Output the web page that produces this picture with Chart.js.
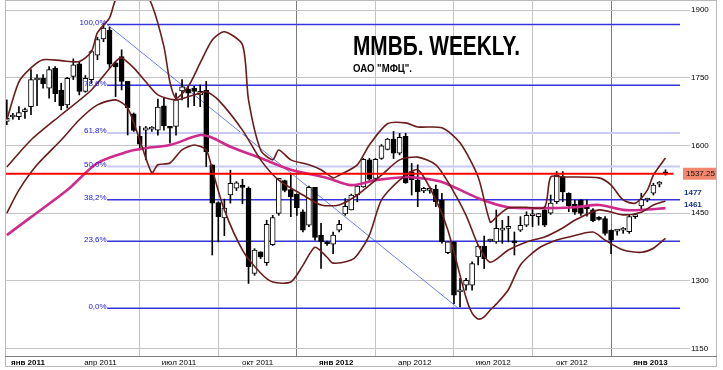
<!DOCTYPE html>
<html><head><meta charset="utf-8">
<script src="https://cdn.jsdelivr.net/npm/chart.js@4/dist/chart.umd.min.js"></script>
<style>html,body{margin:0;padding:0;background:#fff}canvas{display:block}</style>
</head><body>
<canvas id="c" width="723" height="370"></canvas>
<script>
// ---- DATA (weekly candles; week 0 = week of 10 Jan 2011) ----
const firstWeek = -4;
const openV  = [1653,1663,1664,1675,1686,1745,1749,1727,1771,1723,1690,1753,1781,1720,1746,1800,1836,1856,1783,1797,1742,1670,1620,1634,1636,1634,1688,1640,1642,1721,1725,1727,1712,1722,1557,1473,1439,1490,1505,1512,1505,1316,1364,1340,1380,1449,1522,1502,1492,1453,1423,1507,1401,1383,1381,1412,1448,1457,1490,1508,1568,1527,1571,1591,1614,1583,1620,1542,1523,1499,1500,1503,1479,1362,1386,1275,1290,1290,1353,1377,1388,1386,1412,1416,1386,1412,1423,1444,1442,1457,1450,1475,1531,1494,1470,1479,1466,1457,1438,1438,1412,1410,1412,1409,1442,1466,1479,1494,1514,1538];
const highV  = [1701,1671,1686,1683,1768,1757,1757,1775,1775,1738,1751,1792,1786,1755,1811,1840,1870,1862,1786,1812,1742,1672,1642,1642,1642,1703,1705,1642,1716,1746,1731,1731,1734,1742,1557,1475,1481,1545,1520,1525,1508,1371,1364,1434,1445,1527,1523,1537,1492,1457,1510,1507,1427,1388,1408,1434,1482,1492,1512,1571,1571,1571,1602,1616,1631,1627,1627,1560,1557,1507,1508,1512,1494,1386,1386,1305,1305,1342,1379,1399,1392,1457,1434,1443,1408,1442,1453,1460,1449,1464,1490,1542,1542,1495,1478,1480,1479,1460,1442,1442,1412,1414,1418,1446,1448,1494,1483,1516,1520,1546];
const lowV   = [1646,1658,1657,1660,1668,1688,1727,1705,1697,1679,1683,1746,1712,1718,1738,1790,1830,1772,1708,1723,1623,1631,1590,1568,1631,1623,1634,1605,1623,1701,1685,1688,1686,1553,1357,1386,1400,1472,1500,1471,1294,1312,1349,1334,1378,1445,1497,1442,1445,1408,1420,1390,1327,1378,1360,1408,1445,1457,1475,1507,1523,1525,1569,1590,1571,1579,1516,1490,1464,1495,1494,1464,1383,1360,1249,1242,1279,1279,1335,1327,1386,1383,1383,1386,1357,1409,1420,1420,1423,1420,1447,1471,1475,1453,1447,1445,1443,1431,1434,1401,1360,1401,1405,1405,1438,1457,1475,1490,1508,1534];
const closeV = [1660,1666,1673,1678,1746,1747,1737,1768,1715,1688,1749,1779,1720,1749,1808,1835,1860,1780,1774,1742,1683,1633,1603,1639,1638,1685,1643,1638,1701,1730,1716,1720,1720,1586,1472,1442,1461,1516,1517,1507,1331,1368,1353,1425,1440,1527,1500,1486,1462,1412,1507,1396,1386,1382,1401,1425,1465,1490,1510,1569,1525,1569,1599,1614,1583,1618,1517,1524,1497,1505,1505,1475,1386,1386,1268,1280,1301,1338,1377,1349,1390,1416,1416,1418,1384,1423,1445,1448,1449,1423,1472,1534,1497,1466,1452,1449,1460,1433,1436,1405,1390,1414,1416,1442,1445,1480,1480,1512,1516,1537.25];

// Bollinger bands (at sample weeks)
const bbUpperWeek = [-4,-2,0,2,5,8,10,11,13,14,16,18,20,22,23,24,26,28,30,32,35,36,38,40,41,43,46,48,50,51,54,56,59,62,64,68,71,74,76,77,79,82,85,86,88,94,96,98,100,102,103,105];
const bbUpper     = [1657,1741,1772,1790,1788,1786,1808,1850,1883,1923,1956,1956,1912,1819,1740,1705,1730,1783,1834,1852,1823,1701,1590,1568,1590,1568,1557,1546,1528,1534,1557,1601,1648,1650,1641,1639,1606,1530,1430,1441,1461,1463,1463,1530,1530,1528,1512,1479,1472,1501,1534,1572];
const bbMidWeek = [-4,0,5,10,14,15,17,19,21,24,27,29,31,35,38,41,45,48,51,54,58,61,64,67,69,72,74,76,79,82,85,88,90,94,98,101,103,105];
const bbMid     = [1552,1612,1668,1723,1786,1794,1772,1741,1712,1701,1712,1719,1701,1634,1568,1523,1490,1468,1468,1490,1534,1568,1574,1557,1519,1445,1379,1341,1368,1386,1397,1417,1434,1457,1446,1452,1468,1477];
const bbLowerWeek = [-4,-2,1,5,8,11,14,16,18,20,21,23,25,27,29,30,32,35,38,40,43,45,47,49,50,53,54,56,58,61,64,67,69,72,73,74,75,76,77,79,81,84,87,89,93,95,98,101,103,105];
const bbLower     = [1450,1501,1557,1612,1657,1690,1701,1683,1612,1539,1557,1561,1590,1601,1590,1546,1457,1368,1317,1297,1297,1334,1374,1352,1339,1346,1357,1401,1479,1523,1546,1479,1412,1262,1228,1215,1220,1235,1248,1280,1335,1372,1390,1397,1408,1390,1368,1363,1372,1394];
// long moving average (magenta)
const maWeek = [-4,0,6,11,16,19,23,28,30,33,38,43,49,53,57,62,64,68,74,79,85,90,94,98,101,105];
const maVal  = [1401,1441,1501,1561,1586,1594,1601,1623,1617,1597,1572,1546,1528,1512,1523,1530,1528,1519,1483,1463,1461,1463,1468,1457,1457,1461];

// Fibonacci retracement
const fibHigh = 1868, fibLow = 1239;
const fibRatios = [1, 0.786, 0.618, 0.5, 0.382, 0.236, 0];
const fibLabels = ['100,0%','78,6%','61,8%','50,0%','38,2%','23,6%','0,0%'];
const fibSpan = [12.6, 107.4];
const trendWeeks = [12.6, 70.7];
const lastPrice = 1537.25;
const sideLabels = [1477, 1461];

// axes
const yTicks = [1150,1300,1450,1600,1750,1900];
const monthWeek  = [0,12,25,38,51,64,77,90,103];
const monthLabel = ['янв 2011','апр 2011','июл 2011','окт 2011','янв 2012','апр 2012','июл 2012','окт 2012','янв 2013'];

// ---- build ----
const weeks = openV.map((_, k) => firstWeek + k);
const pts = (ws, vs) => ws.map((w, k) => ({x: w, y: vs[k]}));
const FONT = '"Liberation Sans", Arial, sans-serif';

const datasets = [];
datasets.push({type:'line', label:'last', data:[{x:-4.3,y:lastPrice},{x:106.3,y:lastPrice}], borderColor:'#ff0000', borderWidth:2, pointRadius:0, order:0});
datasets.push({type:'line', label:'bbU', data:pts(bbUpperWeek,bbUpper), borderColor:'#6a1c1c', borderWidth:1.6, pointRadius:0, tension:0.25, order:1});
datasets.push({type:'line', label:'bbM', data:pts(bbMidWeek,bbMid), borderColor:'#6a1c1c', borderWidth:1.6, pointRadius:0, tension:0.25, order:1});
datasets.push({type:'line', label:'bbL', data:pts(bbLowerWeek,bbLower), borderColor:'#6a1c1c', borderWidth:1.6, pointRadius:0, tension:0.25, order:1});
datasets.push({type:'line', label:'ma', data:pts(maWeek,maVal), borderColor:'#cf2b8c', borderWidth:2.6, pointRadius:0, tension:0.3, order:1});
datasets.push({type:'bar', label:'body', data:weeks.map((w,k)=>({x:w, y:[openV[k], closeV[k]]})),
  backgroundColor: ctx => closeV[ctx.dataIndex] >= openV[ctx.dataIndex] ? '#ffffff' : '#000000',
  borderColor:'#000', borderWidth:1, borderSkipped:false, barThickness:5, grouped:false, minBarLength:2, order:2});
datasets.push({type:'bar', label:'wick', data:weeks.map((w,k)=>({x:w, y:[lowV[k], highV[k]]})),
  backgroundColor:'#000', borderWidth:0, barThickness:1, grouped:false, order:3});
fibRatios.forEach((r, k) => {
  const lvl = fibLow + r*(fibHigh - fibLow);
  const light = (r === 0.618 || r === 0.5);
  datasets.push({type:'line', label:'fib'+k, data:[{x:fibSpan[0],y:lvl},{x:fibSpan[1],y:lvl}],
    borderColor: light ? '#c9c9f3' : '#3434dc', borderWidth: light ? 2 : 1.5, pointRadius:0, order:4});
});
datasets.push({type:'line', label:'trend', data:[{x:trendWeeks[0],y:fibHigh},{x:trendWeeks[1],y:fibLow}],
  borderColor:'#6f7ff0', borderWidth:1, pointRadius:0, order:4});

const overlay = {
  id:'overlay',
  beforeDraw(chart){ const c=chart.ctx; c.save(); c.fillStyle='#fff'; c.fillRect(0,0,chart.width,chart.height); c.restore(); },
  afterDraw(chart){
    const c = chart.ctx, xs = chart.scales.x, ys = chart.scales.y, a = chart.chartArea;
    c.save();
    c.strokeStyle='#b9b9b9'; c.lineWidth=1;
    c.strokeRect(a.left+0.5, 0.5, 716-a.left, 366);
    c.strokeStyle='#808080';
    c.beginPath(); c.moveTo(a.left, a.bottom+0.5); c.lineTo(717, a.bottom+0.5); c.stroke();
    c.font = '8px ' + FONT; c.fillStyle = '#2020e0'; c.textAlign='right'; c.textBaseline='alphabetic';
    fibRatios.forEach((r,k)=>{
      const lvl = fibLow + r*(fibHigh-fibLow);
      c.fillText(fibLabels[k], xs.getPixelForValue(fibSpan[0]) - 0.5, ys.getPixelForValue(lvl) + 0.5);
    });
    const yp = ys.getPixelForValue(lastPrice);
    c.fillStyle = '#f3866f'; c.fillRect(a.right, yp-6, 33, 12);
    c.fillStyle = '#111'; c.textAlign='left'; c.textBaseline='middle'; c.font = '8px ' + FONT;
    c.fillText(lastPrice.toFixed(2), a.right+3, yp+0.5);
    c.font = 'bold 8px ' + FONT; c.fillStyle = '#17358f';
    c.fillText(String(sideLabels[0]), a.right+1, ys.getPixelForValue(sideLabels[0]) - 8);
    c.fillText(String(sideLabels[1]), a.right+1, ys.getPixelForValue(sideLabels[1]) - 3);
    c.fillStyle = '#000'; c.textAlign='left'; c.textBaseline='alphabetic';
    const title = 'ММВБ. WEEKLY.';
    c.font = 'bold 28px ' + FONT;
    let w = c.measureText(title).width;
    c.save(); c.translate(353, 55); c.scale(167 / w, 1); c.fillText(title, 0, 0); c.restore();
    const sub = 'ОАО "МФЦ".';
    c.font = 'bold 11px ' + FONT;
    w = c.measureText(sub).width;
    c.save(); c.translate(353, 72); c.scale(59 / w, 1); c.fillText(sub, 0, 0); c.restore();
    c.restore();
  }
};

new Chart(document.getElementById('c'), {
  type:'bar',
  data:{datasets},
  options:{
    responsive:false, animation:false, devicePixelRatio:1,
    layout:{padding:{left:5, right:7, top:0, bottom:3}},
    plugins:{legend:{display:false}, tooltip:{enabled:false}},
    scales:{
      x:{type:'linear', min:-4.3, max:107.9, offset:false,
        afterBuildTicks: s => { s.ticks = monthWeek.map(w => ({value: w - 0.5})); },
        afterFit: s => { s.height = 11; s.paddingLeft = 0; s.paddingRight = 0; },
        border:{display:false},
        grid:{drawTicks:false, color: ctx => {
          const k = ctx.index; if (k === undefined) return '#c4c4c4';
          if (monthWeek[k] === 12) return 'rgba(0,0,0,0)';
          return monthLabel[k] && monthLabel[k].startsWith('янв') ? '#7c7c7c' : '#c4c4c4'; }},
        ticks:{autoSkip:false, maxRotation:0, padding:2, color:'#000',
          font: ctx => ({family:FONT, size:8, weight: (monthLabel[ctx.index]||'').startsWith('янв') ? 'bold' : 'normal'}),
          callback: (v, k) => monthLabel[k]}
      },
      y:{type:'linear', position:'right', min:1133, max:1922.5,
        afterBuildTicks: s => { s.ticks = yTicks.map(v => ({value:v})); },
        afterFit: s => { s.width = 33; s.paddingTop = 0; s.paddingBottom = 0; },
        border:{display:false},
        grid:{color:'#c4c4c4', tickLength:7},
        ticks:{padding:1, color:'#000', font:{family:FONT, size:8}, callback: v => String(v)}
      }
    }
  },
  plugins:[overlay]
});
</script>
</body></html>
